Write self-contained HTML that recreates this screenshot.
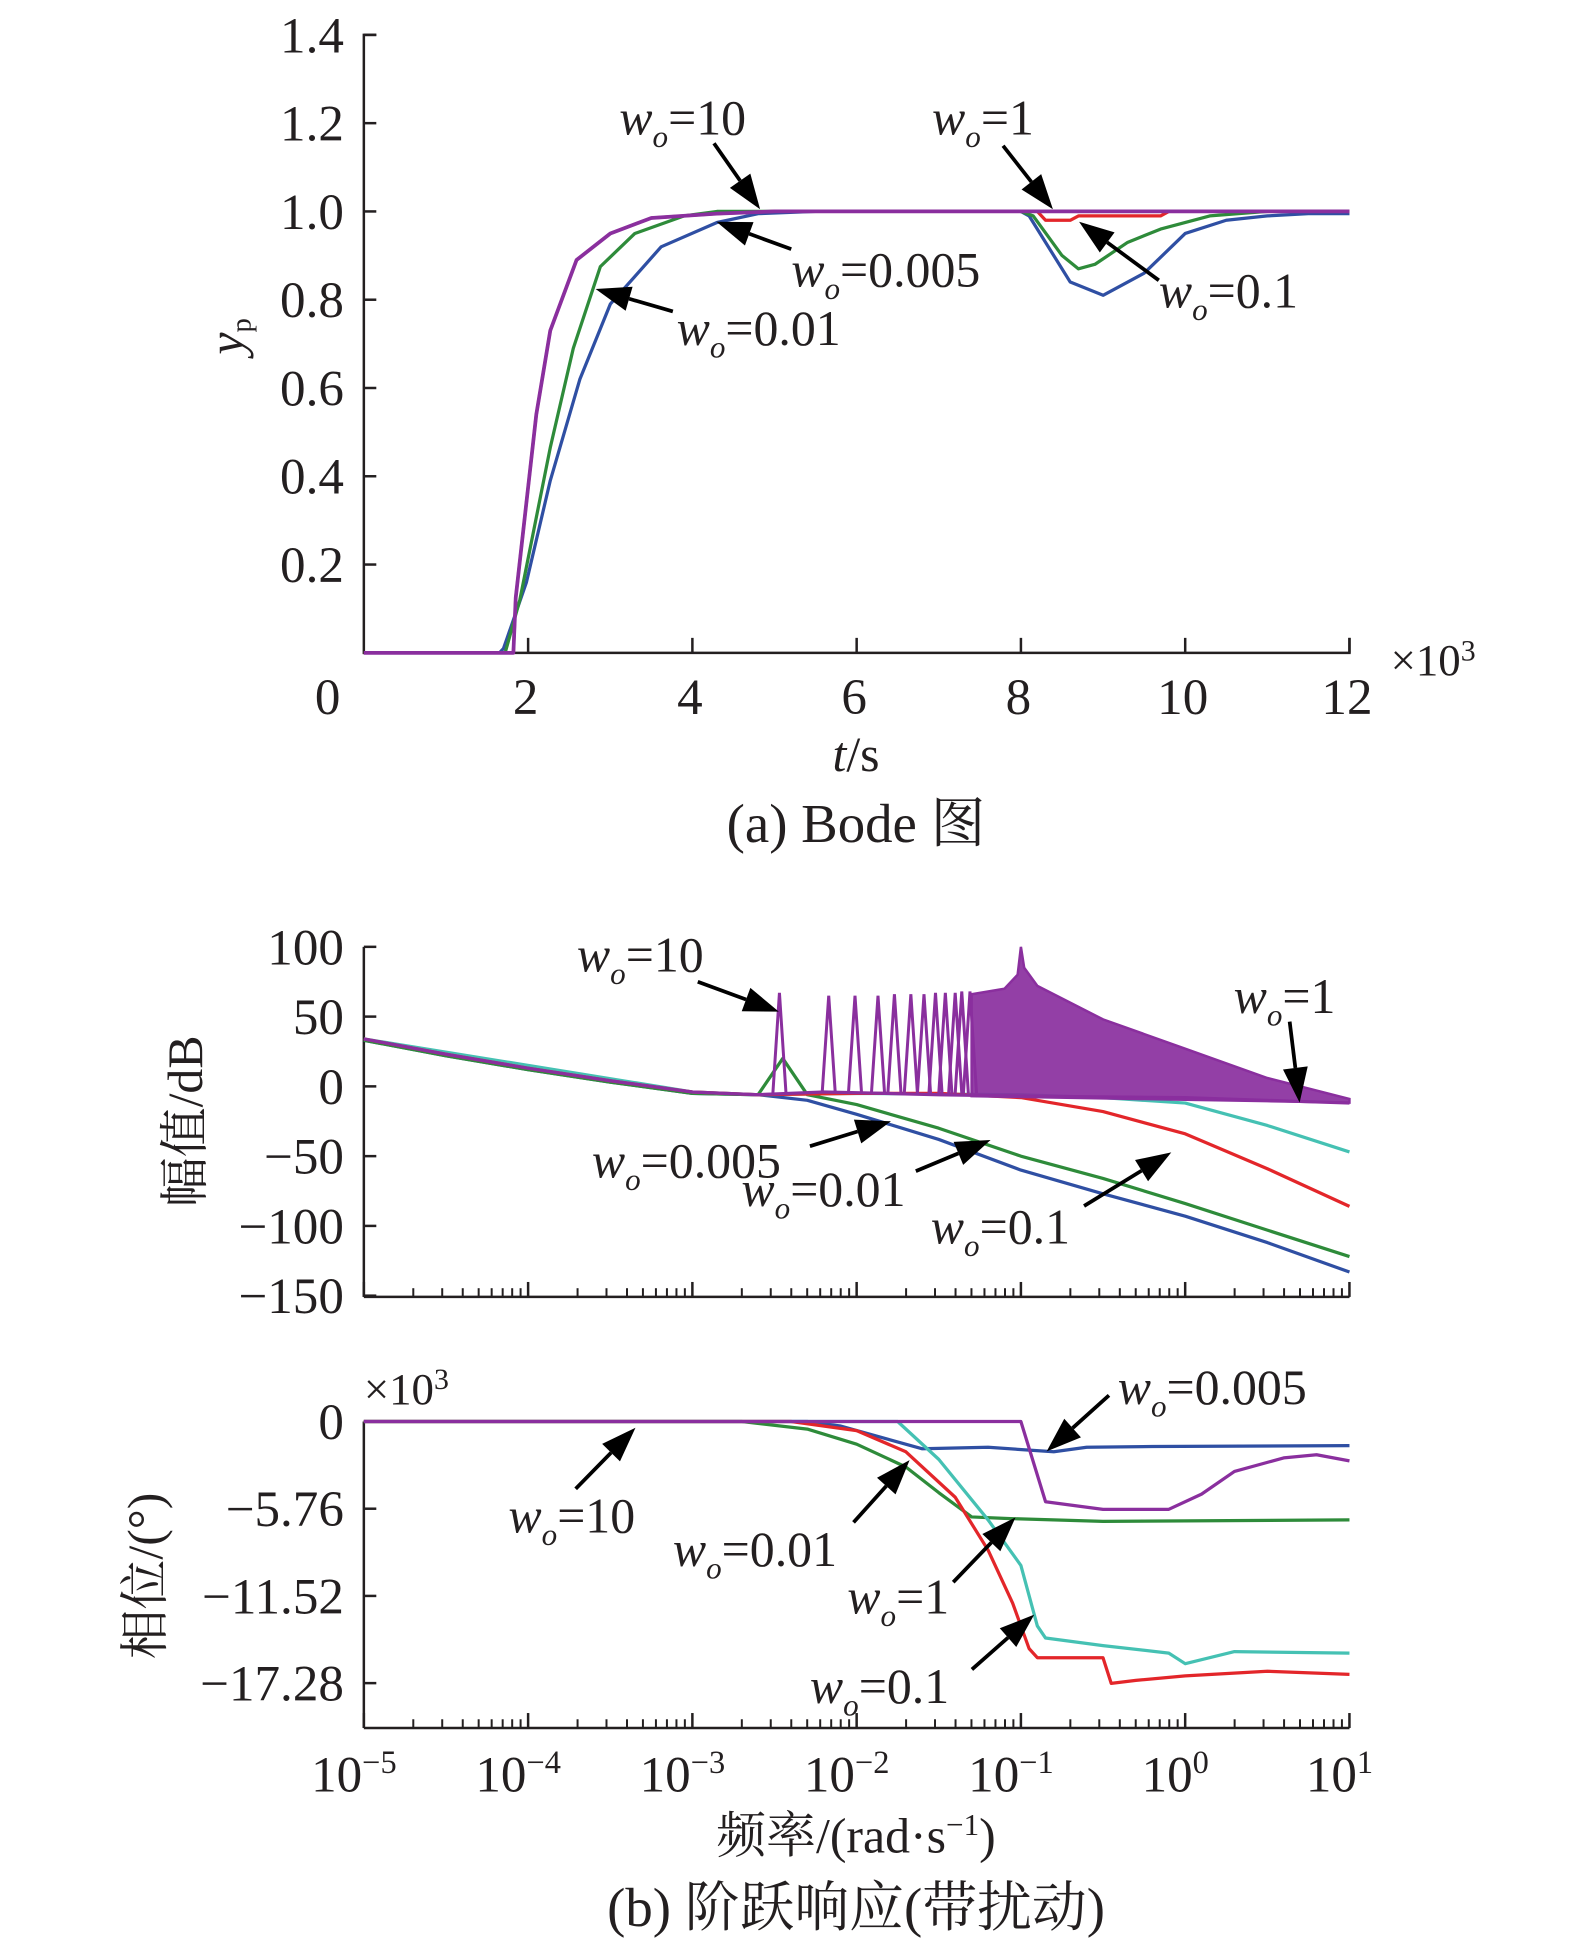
<!DOCTYPE html>
<html><head><meta charset="utf-8"><style>
html,body{margin:0;padding:0;background:#fff;}
svg{display:block;}
text{font-family:"Liberation Serif","Noto Serif CJK SC","Noto Sans CJK SC",serif;fill:#231f20;}
</style></head><body>
<svg id="fig" width="1575" height="1946" viewBox="0 0 1264 1562" preserveAspectRatio="none" xmlns="http://www.w3.org/2000/svg">
<g id="g1"></g>
<g id="g2"></g>
<g id="g3"></g>
<g id="ann"></g>
</svg>
<script>
// ---------- data ----------
const COLORS = {blue:'#2f4fa3', green:'#2e8b3a', red:'#e3262a', cyan:'#45c1b3', purple:'#8a2f9e'};
// Step response (t in 1e3 s)
const stepT_fast = [0,1.82,1.85,2.1,2.27,2.59,3.0,3.5,4.3,5,8,12];
const stepY_purple = [0,0,0.125,0.54,0.73,0.89,0.95,0.985,0.995,1,1,1];
const stepT_blue = [0,1.65,1.7,1.98,2.27,2.63,3.0,3.62,4.3,4.8,5.5,8,8.1,8.6,9.0,9.5,10.0,10.5,11,11.5,12];
const stepY_blue = [0,0,0.01,0.16,0.39,0.62,0.79,0.92,0.975,0.995,1,1,0.99,0.84,0.81,0.86,0.95,0.98,0.99,0.995,0.995];
const stepT_green = [0,1.72,1.9,2.27,2.55,2.88,3.3,3.9,4.3,8,8.15,8.5,8.7,8.9,9.3,9.7,10.3,11,12];
const stepY_green = [0,0,0.12,0.465,0.69,0.875,0.95,0.99,1,1,0.99,0.9,0.87,0.88,0.93,0.96,0.99,1,1];
const stepT_red = [0,1.82,1.85,2.1,2.27,2.59,3.0,3.5,4.3,5,8.2,8.3,8.6,8.7,9.7,9.8,12];
const stepY_red = [0,0,0.125,0.54,0.73,0.89,0.95,0.985,0.995,1,1,0.98,0.98,0.99,0.99,1,1];
// Bode magnitude (log10 w, dB)
const magW_blue = [-5,-4.5,-4,-3.5,-3,-2.6,-2.3,-2,-1.5,-1,-0.5,0,0.5,1];
const magD_blue = [33,22,12,3,-5,-6,-10,-20,-38,-60,-77,-93,-112,-133];
const magW_green = [-5,-4.5,-4,-3.5,-3,-2.6,-2.45,-2.3,-2,-1.5,-1,-0.5,0,0.5,1];
const magD_green = [33,22,12,3,-5,-6,20,-6,-13,-30,-50,-66,-84,-103,-122];
const magW_red = [-5,-4.5,-4,-3.5,-3,-2.6,-2,-1.5,-1,-0.5,0,0.5,1];
const magD_red = [34,23,13,4,-4,-6,-5,-5,-8,-18,-34,-59,-86];
const magW_cyan = [-5,-3,-2.6,-2,-1,-0.5,0,0.5,1];
const magD_cyan = [34,-4,-6,-5,-6,-8,-12,-28,-47];
const magW_purple = [-5,-4.5,-4,-3.5,-3,-2.6,-2.2,-1.5,-1,0,1];
const magD_purple = [34,23,13,4,-4,-6,-4,-6,-7,-8,-12];
const peakW = [-2.47,-2.17,-2.01,-1.87,-1.77,-1.67,-1.59,-1.52,-1.46,-1.40,-1.36,-1.31];
const peakD = [67,65,65,65,66,66,66,67,67,67,68,68];
const envW = [-1.3,-1.1,-1.02,-1,-0.98,-0.9,-0.5,0,0.5,1];
const envD = [66,70,80,100,85,72,48,27,6,-9];
// Phase (log10 w, x1e3 deg)
const phW_blue = [-5,-2.3,-2.1,-1.6,-1.2,-0.8,-0.6,-0.2,1];
const phD_blue = [0,0,-0.3,-1.8,-1.7,-2.0,-1.7,-1.65,-1.6];
const phW_green = [-5,-2.7,-2.3,-2,-1.7,-1.5,-1.3,-1.1,-0.5,1];
const phD_green = [0,0,-0.5,-1.5,-3,-4.7,-6.3,-6.4,-6.6,-6.5];
const phW_red = [-5,-2.4,-2,-1.7,-1.4,-1.2,-1.05,-0.95,-0.9,-0.5,-0.45,-0.3,0,0.5,1];
const phD_red = [0,0,-0.6,-2,-5,-8.5,-12,-15,-15.6,-15.6,-17.3,-17.1,-16.8,-16.5,-16.7];
const phW_cyan = [-5,-1.75,-1.5,-1.2,-1,-0.9,-0.85,-0.5,-0.1,0,0.3,1];
const phD_cyan = [0,0,-2.5,-6.5,-9.5,-13.5,-14.3,-14.8,-15.3,-16,-15.2,-15.3];
const phW_purple = [-5,-1,-0.85,-0.5,-0.1,0.1,0.3,0.6,0.8,1];
const phD_purple = [0,0,-5.3,-5.8,-5.8,-4.8,-3.3,-2.4,-2.2,-2.6];
// tick labels
const stepTicksY = [0.2,0.4,0.6,0.8,1.0,1.2,1.4];
const stepTicksX = [0,2,4,6,8,10,12];
const magTicks = [100,50,0,-50,-100,-150];
const phTicks = [0,-5.76,-11.52,-17.28];
const decades = [-5,-4,-3,-2,-1,0,1];

// ---------- helpers ----------
const NS='http://www.w3.org/2000/svg';
const FS=41;
function el(parent,tag,attrs,txt){const e=document.createElementNS(NS,tag);for(const k in attrs)e.setAttribute(k,attrs[k]);if(txt!==undefined)e.textContent=txt;parent.appendChild(e);return e;}
const xT=t=>292+t/12*791, yT=v=>524-v/1.4*496;
const xL=l=>292+(l+5)*131.83, yM=d=>760+(100-d)*1.12, yP=p=>1141-p/5.76*70;
function poly(g,xs,ys,fx,fy,color,name,w){const p=el(g,'polyline',{points:xs.map((x,i)=>fx(x).toFixed(1)+','+fy(ys[i]).toFixed(1)).join(' '),fill:'none',stroke:color,'stroke-width':w||2.6,'stroke-linejoin':'round'});

return p;}
function txt(g,x,y,s,size,anchor,name){const t=el(g,'text',{x:x,y:y,'font-size':size,'text-anchor':anchor||'middle'},s);

return t;}

// ---------- chart 1 ----------
const g1=document.getElementById('g1');
el(g1,'path',{d:'M302,28 H292 V524 H1083 V512',fill:'none',stroke:'#231f20','stroke-width':2});
stepTicksY.forEach(v=>{el(g1,'line',{x1:292,x2:302,y1:yT(v),y2:yT(v),stroke:'#231f20','stroke-width':2});txt(g1,276,yT(v)+14,v.toFixed(1),FS,'end','y-tick-label');});
stepTicksX.forEach(v=>{if(v>0)el(g1,'line',{x1:xT(v),x2:xT(v),y1:524,y2:512,stroke:'#231f20','stroke-width':2});txt(g1,v===0?263:xT(v)-2,573,String(v),FS,'middle','x-tick-label');});
{const t=txt(g1,1116,542,'×10',36,'start','x-scale-label');el(t,'tspan',{dy:-12,'font-size':24},'3');}
{const t=el(g1,'text',{x:687,y:619,'font-size':40,'text-anchor':'middle'});el(t,'tspan',{'font-style':'italic'},'t');el(t,'tspan',{},'/s');}
{const t=el(g1,'text',{transform:'translate(195,270) rotate(-90)','font-size':40,'text-anchor':'middle'});el(t,'tspan',{'font-style':'italic'},'y');el(t,'tspan',{'font-size':23,dy:6},'p');}
txt(g1,687,676,'(a) Bode 图',44,'middle','caption-a');
poly(g1,stepT_blue,stepY_blue,xT,yT,COLORS.blue,'line-wo-0.005');
poly(g1,stepT_green,stepY_green,xT,yT,COLORS.green,'line-wo-0.01');
poly(g1,stepT_red,stepY_red,xT,yT,COLORS.red,'line-wo-0.1');
poly(g1,stepT_fast,stepY_purple,xT,yT,COLORS.purple,'line-wo-10',3);

// ---------- log axis helper ----------
function logAxis(g,yAx){
  el(g,'line',{x1:292,x2:1083,y1:yAx,y2:yAx,stroke:'#231f20','stroke-width':2});
  decades.forEach(d=>{el(g,'line',{x1:xL(d),x2:xL(d),y1:yAx,y2:yAx-12,stroke:'#231f20','stroke-width':2});
    if(d<1)for(let m=2;m<10;m++){const x=xL(d+Math.log10(m));el(g,'line',{x1:x,x2:x,y1:yAx,y2:yAx-7,stroke:'#231f20','stroke-width':1.6});}});
}
// ---------- chart 2 ----------
const g2=document.getElementById('g2');
el(g2,'line',{x1:292,x2:292,y1:760,y2:1041,stroke:'#231f20','stroke-width':2});
logAxis(g2,1041);
magTicks.forEach(v=>{el(g2,'line',{x1:292,x2:302,y1:yM(v),y2:yM(v),stroke:'#231f20','stroke-width':2});txt(g2,276,yM(v)+14,v<0?'−'+(-v):String(v),FS,'end','mag-tick-label');});
txt(g2,0,0,'幅值/dB',40,'middle','mag-axis-title').setAttribute('transform','translate(162,900) rotate(-90)');
poly(g2,magW_blue,magD_blue,xL,yM,COLORS.blue,'mag-wo-0.005');
poly(g2,magW_green,magD_green,xL,yM,COLORS.green,'mag-wo-0.01');
poly(g2,magW_cyan,magD_cyan,xL,yM,COLORS.cyan,'mag-wo-1');
poly(g2,magW_red,magD_red,xL,yM,COLORS.red,'mag-wo-0.1');
poly(g2,magW_purple,magD_purple,xL,yM,COLORS.purple,'mag-wo-10');
peakW.forEach((w,i)=>{const p=el(g2,'path',{d:`M${xL(w-0.04)},${yM(-5)} L${xL(w)},${yM(peakD[i])} L${xL(w+0.04)},${yM(-5)}`,fill:'none',stroke:COLORS.purple,'stroke-width':2.4});

});
{const top=envW.map((w,i)=>xL(w)+','+yM(envD[i])).join(' ');const bot=envW.slice().reverse().map(w=>xL(w)+','+yM(-7-(w+1.3)*2)).join(' ');
const p=el(g2,'polygon',{points:top+' '+bot,fill:COLORS.purple,stroke:COLORS.purple,'stroke-width':2,'fill-opacity':0.92});

}

// ---------- chart 3 ----------
const g3=document.getElementById('g3');
el(g3,'line',{x1:292,x2:292,y1:1141,y2:1387,stroke:'#231f20','stroke-width':2});
logAxis(g3,1387);
phTicks.forEach(v=>{el(g3,'line',{x1:292,x2:302,y1:yP(v),y2:yP(v),stroke:'#231f20','stroke-width':2});txt(g3,276,yP(v)+14,v===0?'0':'−'+(-v).toFixed(2),FS,'end','phase-tick-label');});
{const t=txt(g3,292,1127,'×10',36,'start','phase-scale-label');el(t,'tspan',{dy:-12,'font-size':24},'3');}
txt(g3,0,0,'相位/(°)',40,'middle','phase-axis-title').setAttribute('transform','translate(130,1265) rotate(-90)');
decades.forEach(d=>{const t=txt(g3,xL(d)-8,1438,'10',FS,'middle','freq-tick-label');el(t,'tspan',{dy:-15,'font-size':26},d<0?'−'+(-d):String(d));});
{const t=txt(g3,687,1487,'频率/(rad·s',40,'middle','x-axis-title-freq');el(t,'tspan',{dy:-14,'font-size':25},'−1');el(t,'tspan',{dy:14},')');}
txt(g3,687,1546,'(b) 阶跃响应(带扰动)',44,'middle','caption-b');
poly(g3,phW_green,phD_green,xL,yP,COLORS.green,'phase-wo-0.01');
poly(g3,phW_blue,phD_blue,xL,yP,COLORS.blue,'phase-wo-0.005');
poly(g3,phW_cyan,phD_cyan,xL,yP,COLORS.cyan,'phase-wo-1');
poly(g3,phW_red,phD_red,xL,yP,COLORS.red,'phase-wo-0.1');
poly(g3,phW_purple,phD_purple,xL,yP,COLORS.purple,'phase-wo-10');

// ---------- annotations ----------
const ann=document.getElementById('ann');
function label(x,y,val,name){const t=el(ann,'text',{x:x,y:y,'font-size':40});el(t,'tspan',{'font-style':'italic'},'w');el(t,'tspan',{'font-style':'italic','font-size':25,dy:10},'o');el(t,'tspan',{dy:-10},'='+val);

}
function arrow(x1,y1,x2,y2){const a=Math.atan2(y2-y1,x2-x1),L=28,W=10;const bx=x2-L*Math.cos(a),by=y2-L*Math.sin(a);
const l=el(ann,'line',{x1:x1,y1:y1,x2:bx,y2:by,stroke:'#000','stroke-width':3});


const h=el(ann,'polygon',{points:`${x2},${y2} ${bx-W*Math.sin(a)},${by+W*Math.cos(a)} ${bx+W*Math.sin(a)},${by-W*Math.cos(a)}`,fill:'#000'});

}
label(497,108,'10','10-a');arrow(573,115,610,168);
label(748,108,'1','1-a');arrow(805,117,845,168);
label(635,230,'0.005','0.005-a');arrow(635,200,575,178);
label(543,277,'0.01','0.01-a');arrow(540,250,478,232);
label(930,247,'0.1','0.1-a');arrow(930,225,866,178);
label(463,780,'10','10-b');arrow(560,788,625,812);
label(990,813,'1','1-b');arrow(1035,820,1043,885);
label(475,945,'0.005','0.005-b');arrow(650,920,715,900);
label(595,968,'0.01','0.01-b');arrow(735,940,795,915);
label(747,998,'0.1','0.1-b');arrow(870,968,940,925);
label(897,1127,'0.005','0.005-c');arrow(890,1120,840,1165);
label(408,1230,'10','10-c');arrow(462,1195,510,1146);
label(540,1257,'0.01','0.01-c');arrow(685,1222,730,1172);
label(680,1295,'1','1-c');arrow(765,1270,815,1218);
label(650,1367,'0.1','0.1-c');arrow(780,1340,830,1296);
</script>
</body></html>
